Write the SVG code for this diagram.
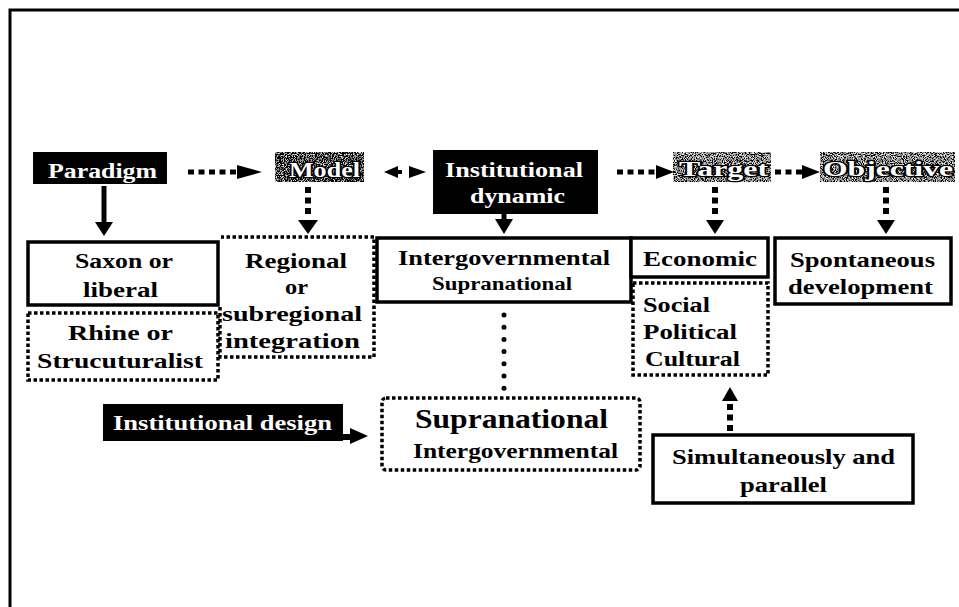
<svg xmlns="http://www.w3.org/2000/svg" width="959" height="607" viewBox="0 0 959 607">
  <defs>
    <style>
      .t { font-family: "Liberation Serif", "Times New Roman", serif; font-weight: bold; font-size: 20px; fill: #000; }
      .w { fill: #fff; }
      .halo { fill: #fff; stroke: #000; stroke-width: 2.5; paint-order: stroke; }
      .solid { fill: #fff; stroke: #000; stroke-width: 3.5; }
      .dotted { fill: none; stroke: #000; stroke-width: 3.5; stroke-dasharray: 3.5 2.5; }
      .dash { fill: none; stroke: #000; stroke-width: 5; stroke-dasharray: 6 4.5; }
      .dashv { fill: none; stroke: #000; stroke-width: 6; stroke-dasharray: 6 4.5; }
      .line { fill: none; stroke: #000; stroke-width: 5; }
      .head { fill: #000; }
    </style>
    <!-- grainy fills for the textured headers -->
    <filter id="grainDark" x="0" y="0" width="100%" height="100%">
      <feTurbulence type="fractalNoise" baseFrequency="0.9" numOctaves="2" seed="4" result="n"/>
      <feColorMatrix in="n" type="matrix" values="3 0 0 0 -1.45  3 0 0 0 -1.45  3 0 0 0 -1.45  0 0 0 0 1" result="g"/>
      <feComposite in="g" in2="SourceGraphic" operator="in"/>
    </filter>
    <filter id="grainMid" x="0" y="0" width="100%" height="100%">
      <feTurbulence type="fractalNoise" baseFrequency="0.9" numOctaves="2" seed="7" result="n"/>
      <feColorMatrix in="n" type="matrix" values="3 0 0 0 -1.25  3 0 0 0 -1.25  3 0 0 0 -1.25  0 0 0 0 1" result="g"/>
      <feComposite in="g" in2="SourceGraphic" operator="in"/>
    </filter>
  </defs>

  <rect width="959" height="607" fill="#fff"/>

  <!-- outer frame -->
  <path d="M10,607 V10 H959" fill="none" stroke="#000" stroke-width="3"/>

  <!-- top row -->
  <g id="paradigm">
    <rect x="33" y="152" width="134" height="32" fill="#000"/>
    <text class="t w" x="102.5" y="178" text-anchor="middle" textLength="109" lengthAdjust="spacingAndGlyphs">Paradigm</text>
  </g>
  <g id="model">
    <rect x="275" y="152" width="89" height="30" fill="#000" filter="url(#grainDark)"/>
    <text class="t halo" x="324.5" y="177" text-anchor="middle" textLength="71" lengthAdjust="spacingAndGlyphs">Model</text>
  </g>
  <g id="institutional-dynamic">
    <rect x="433" y="150" width="165" height="64" fill="#000"/>
    <text class="t w" x="514" y="177" text-anchor="middle" textLength="138" lengthAdjust="spacingAndGlyphs">Institutional</text>
    <text class="t w" x="517.5" y="203" text-anchor="middle" textLength="95" lengthAdjust="spacingAndGlyphs">dynamic</text>
  </g>
  <g id="target">
    <rect x="673" y="152" width="98" height="30" fill="#000" filter="url(#grainMid)"/>
    <text class="t halo" x="723.5" y="176" text-anchor="middle" textLength="89" lengthAdjust="spacingAndGlyphs">Target</text>
  </g>
  <g id="objective">
    <rect x="820" y="152" width="135" height="30" fill="#000" filter="url(#grainMid)"/>
    <text class="t halo" x="888" y="176" text-anchor="middle" textLength="130" lengthAdjust="spacingAndGlyphs">Objective</text>
  </g>

  <!-- second row -->
  <g id="saxon">
    <rect class="solid" x="28" y="242" width="190" height="63"/>
    <text class="t" x="124" y="268" text-anchor="middle" textLength="98" lengthAdjust="spacingAndGlyphs">Saxon or</text>
    <text class="t" x="120.5" y="297" text-anchor="middle" textLength="75" lengthAdjust="spacingAndGlyphs">liberal</text>
  </g>
  <g id="rhine">
    <rect class="dotted" x="28" y="313" width="190" height="67"/>
    <text class="t" x="120.5" y="340" text-anchor="middle" textLength="105" lengthAdjust="spacingAndGlyphs">Rhine or</text>
    <text class="t" x="120" y="368" text-anchor="middle" textLength="166" lengthAdjust="spacingAndGlyphs">Strucuturalist</text>
  </g>
  <g id="regional">
    <path class="dotted" d="M220,307 V357 H374 V237 H221"/>
    <text class="t" x="296" y="268" text-anchor="middle" textLength="102" lengthAdjust="spacingAndGlyphs">Regional</text>
    <text class="t" x="296.5" y="294" text-anchor="middle" textLength="23" lengthAdjust="spacingAndGlyphs">or</text>
    <text class="t" x="292" y="321" text-anchor="middle" textLength="140" lengthAdjust="spacingAndGlyphs">subregional</text>
    <text class="t" x="292.5" y="348" text-anchor="middle" textLength="135" lengthAdjust="spacingAndGlyphs">integration</text>
  </g>
  <g id="intergovernmental">
    <rect class="solid" x="377" y="238" width="254" height="64"/>
    <text class="t" x="504" y="265" text-anchor="middle" textLength="212" lengthAdjust="spacingAndGlyphs">Intergovernmental</text>
    <text class="t" x="502" y="290" text-anchor="middle" textLength="140" lengthAdjust="spacingAndGlyphs" style="font-size:18px">Supranational</text>
  </g>
  <g id="economic">
    <rect class="solid" x="631" y="238" width="137" height="39"/>
    <text class="t" x="700" y="266" text-anchor="middle" textLength="114" lengthAdjust="spacingAndGlyphs">Economic</text>
  </g>
  <g id="social">
    <rect class="dotted" x="633" y="283" width="135" height="92"/>
    <text class="t" x="643" y="312" textLength="67" lengthAdjust="spacingAndGlyphs">Social</text>
    <text class="t" x="643" y="339" textLength="94" lengthAdjust="spacingAndGlyphs">Political</text>
    <text class="t" x="645" y="366" textLength="95" lengthAdjust="spacingAndGlyphs">Cultural</text>
  </g>
  <g id="spontaneous">
    <rect class="solid" x="775" y="238" width="176" height="66"/>
    <text class="t" x="862.5" y="267" text-anchor="middle" textLength="145" lengthAdjust="spacingAndGlyphs">Spontaneous</text>
    <text class="t" x="860.5" y="294" text-anchor="middle" textLength="145" lengthAdjust="spacingAndGlyphs">development</text>
  </g>

  <!-- lower row -->
  <g id="institutional-design">
    <rect x="103" y="404" width="240" height="37" fill="#000"/>
    <text class="t w" x="222.5" y="430" text-anchor="middle" textLength="219" lengthAdjust="spacingAndGlyphs">Institutional design</text>
  </g>
  <g id="supranational">
    <rect class="dotted" x="382" y="398" width="258" height="72" rx="4"/>
    <text class="t" x="511.5" y="428" text-anchor="middle" textLength="193" lengthAdjust="spacingAndGlyphs" style="font-size:28px">Supranational</text>
    <text class="t" x="515.5" y="458" text-anchor="middle" textLength="205" lengthAdjust="spacingAndGlyphs">Intergovernmental</text>
  </g>
  <g id="simultaneously">
    <rect class="solid" x="653" y="435" width="260" height="68"/>
    <text class="t" x="783.5" y="464" text-anchor="middle" textLength="223" lengthAdjust="spacingAndGlyphs">Simultaneously and</text>
    <text class="t" x="783.5" y="492" text-anchor="middle" textLength="87" lengthAdjust="spacingAndGlyphs">parallel</text>
  </g>

  <!-- connectors -->
  <g id="connectors">
    <!-- Paradigm to Model -->
    <path class="dash" d="M188,172 H236"/>
    <path class="head" d="M237,165 L262,172 L237,179 Z"/>
    <!-- Model to and from Institutional dynamic -->
    <path class="head" d="M384,172 L398,166 V170 H402 V174 H398 V178 Z"/>
    <path class="head" d="M409,166 L426,172 L409,178 Z"/>
    <!-- Institutional dynamic to Target -->
    <path class="dash" d="M617,172 H655"/>
    <path class="head" d="M656,165 L674,172 L656,179 Z"/>
    <!-- Target to Objective -->
    <path class="dash" d="M775,172 H802"/>
    <path class="head" d="M802,165 L820,172 L802,179 Z"/>

    <!-- downward arrows -->
    <path class="line" d="M104,186 V223"/>
    <path class="head" d="M95,222 L113,222 L104,236 Z"/>
    <path class="dashv" d="M308,187 V216"/>
    <path class="head" d="M298,220 L318,220 L308,234 Z"/>
    <path class="line" d="M504,213 V220"/>
    <path class="head" d="M495,219 L513,219 L504,234 Z"/>
    <path class="dashv" d="M715,187 V216"/>
    <path class="head" d="M706,220 L724,220 L715,234 Z"/>
    <path class="dashv" d="M886,187 V216"/>
    <path class="head" d="M877,220 L895,220 L886,234 Z"/>

    <!-- Intergovernmental to Supranational -->
    <path d="M504,315 V390" fill="none" stroke="#000" stroke-width="5" stroke-linecap="round" stroke-dasharray="0 12.2"/>

    <!-- Institutional design to Supranational -->
    <path d="M343,437 H352" fill="none" stroke="#000" stroke-width="6"/>
    <path class="head" d="M350,428 L368,436 L350,444 Z"/>

    <!-- Simultaneously and parallel up to Social -->
    <path class="dashv" d="M730,431 V401"/>
    <path class="head" d="M722,401 L738,401 L730,387 Z"/>
  </g>
</svg>
